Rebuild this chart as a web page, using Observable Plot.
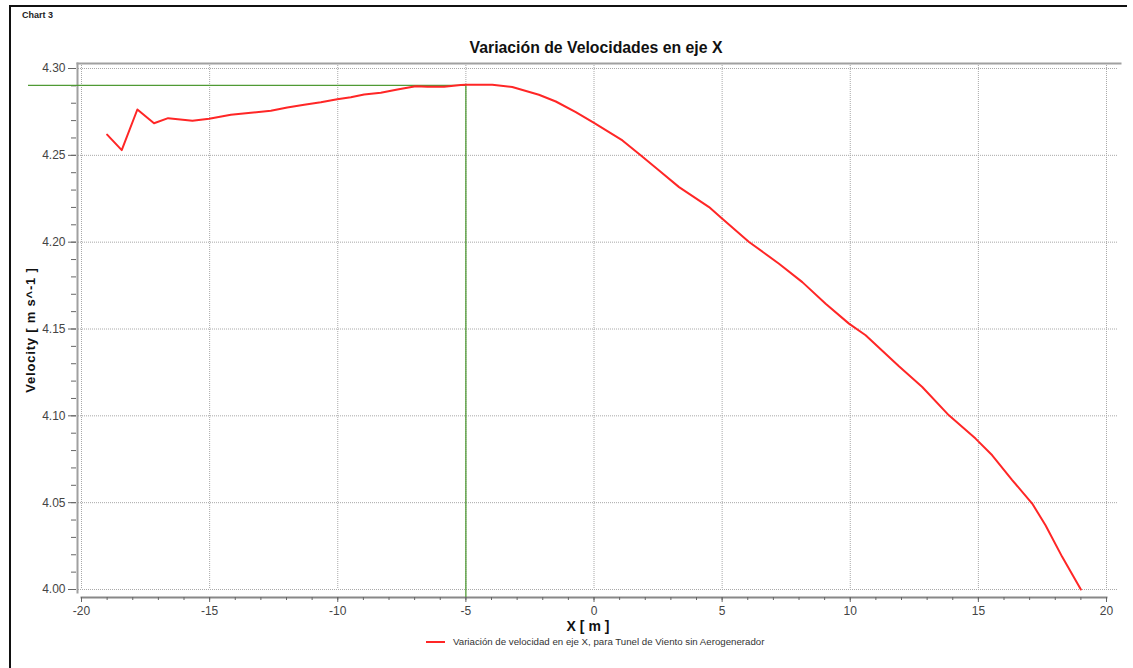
<!DOCTYPE html>
<html>
<head>
<meta charset="utf-8">
<script src="https://cdn.jsdelivr.net/npm/d3@7"></script>
<script src="https://cdn.jsdelivr.net/npm/@observablehq/plot@0.6"></script>
<style>
  html, body { margin: 0; padding: 0; background: #fff; }
  #wrap { position: relative; width: 1133px; height: 668px; overflow: hidden; font-family: "Liberation Sans", Arial, sans-serif; }
  #wrap svg { position: absolute; left: 0; top: 0; }
  .border { position: absolute; left: 9px; top: 5px; width: 1116px; height: 680px; border-left: 2px solid #111; border-top: 2px solid #111; }
  .abs { position: absolute; white-space: nowrap; }
</style>
</head>
<body>
<div id="wrap">
  <div class="border"></div>
</div>
<script>
const chartTag = "Chart 3";
const title = "Variación de Velocidades en eje X";
const xLabel = "X [ m ]";
const yLabel = "Velocity [ m s^-1 ]";
const seriesName = "Variación de velocidad en eje X, para Tunel de Viento sin Aerogenerador";

const posX = [-19.0,-18.43,-17.82,-17.17,-16.62,-15.67,-15.02,-14.17,-13.39,-12.61,-11.97,-11.31,-10.66,-10.02,-9.49,-8.97,-8.32,-7.67,-6.96,-6.50,-5.85,-5.20,-5.0,-3.97,-3.19,-2.15,-1.49,-0.71,0.0,1.11,1.82,2.54,3.32,4.49,4.94,6.05,7.22,8.13,9.04,9.95,10.60,11.90,12.81,13.85,14.89,15.54,16.32,17.10,17.62,18.27,19.0];
const velocity = [4.2619,4.2530,4.2764,4.2685,4.2714,4.2699,4.2711,4.2734,4.2745,4.2757,4.2776,4.2791,4.2806,4.2823,4.2835,4.2850,4.2860,4.2879,4.2898,4.2895,4.2895,4.2905,4.2906,4.2906,4.2893,4.2849,4.2810,4.2749,4.2687,4.2586,4.2500,4.2413,4.2317,4.2202,4.2144,4.2001,4.1876,4.1770,4.1646,4.1531,4.1464,4.1285,4.1166,4.1003,4.0869,4.0773,4.0630,4.0495,4.0370,4.0188,4.0000];

const xTicks = [-20,-15,-10,-5,0,5,10,15,20];
const xMinorTicks = d3.range(-20, 21, 1);
const yTicks = [4.00,4.05,4.10,4.15,4.20,4.25,4.30];
const yMinorTicks = d3.range(400, 431, 1).map(d => d / 100);

const markerX = [-5];
const markerY = [4.2903];

const data = posX.map((x, i) => ({x, v: velocity[i]}));

const gridStyle = {stroke: "#a8a8a8", strokeOpacity: 1, strokeDasharray: "1,1", strokeWidth: 1};
const frameStyle = {stroke: "#a0a0a0", strokeWidth: 2};

const plot = Plot.plot({
  width: 1133,
  height: 668,
  marginLeft: 81,
  marginRight: 27,
  marginTop: 68,
  marginBottom: 79,
  x: {domain: [-20, 20], axis: null},
  y: {domain: [4.0, 4.30], axis: null},
  style: {fontFamily: "'Liberation Sans', Arial, sans-serif", fontSize: "12px", color: "#444", background: "transparent"},
  marks: [
    Plot.gridY(yTicks, {...gridStyle, insetLeft: -3, insetRight: -11}),
    Plot.gridX(xTicks, {...gridStyle, insetTop: -5}),
    Plot.frame({anchor: "top", ...frameStyle, insetTop: -5, insetLeft: -4, insetRight: -14}),
    Plot.frame({anchor: "left", ...frameStyle, insetTop: -5, insetLeft: -4, insetBottom: -3}),
    Plot.frame({anchor: "bottom", stroke: "#888", strokeWidth: 2, insetBottom: -8}),
    Plot.axisY(yTicks, {tickSize: 8, tickPadding: 3, dx: -5, tickFormat: d => d.toFixed(2), label: null, stroke: "#666"}),
    Plot.axisY(yMinorTicks, {tickSize: 5, dx: -5, text: null, label: null, stroke: "#666"}),
    Plot.axisX(xTicks, {tickSize: 5, tickPadding: 4, dy: 8, tickFormat: d => String(d), label: null, stroke: "#666"}),
    Plot.axisX(xMinorTicks, {tickSize: 3, dy: 8, text: null, label: null, stroke: "#666"}),
    Plot.ruleY(markerY, {x1: -20, x2: markerX[0], insetLeft: -53, stroke: "#4f9a34", strokeWidth: 1.3}),
    Plot.ruleX(markerX, {y1: markerY[0], y2: 4.0, insetBottom: -8, stroke: "#4f9a34", strokeWidth: 1.3}),
    Plot.line(data, {x: "x", y: "v", stroke: "#ff2626", strokeWidth: 2})
  ]
});
const wrap = document.getElementById("wrap");
wrap.appendChild(plot);

function addText(txt, css) {
  const d = document.createElement("div");
  d.className = "abs";
  d.textContent = txt;
  Object.assign(d.style, css);
  wrap.appendChild(d);
  return d;
}
addText(chartTag, {left: "22px", top: "10px", fontSize: "9px", fontWeight: "bold", color: "#222"});
addText(title, {left: "0px", width: "1192px", textAlign: "center", top: "39px", fontSize: "15.8px", fontWeight: "bold", color: "#111"});
addText(xLabel, {left: "0px", width: "1176px", textAlign: "center", top: "618px", fontSize: "14px", fontWeight: "bold", color: "#111"});
addText(yLabel, {left: "30px", top: "330px", fontSize: "13px", letterSpacing: "0.8px", fontWeight: "bold", color: "#111", transform: "translate(-50%, -50%) rotate(-90deg)"});
const leg = document.createElement("div");
leg.className = "abs";
Object.assign(leg.style, {left: "426px", top: "636px", fontSize: "9.7px", color: "#333", display: "flex", alignItems: "center"});
leg.innerHTML = '<span style="display:inline-block;width:19px;height:2px;background:#ff2626;margin-right:8px"></span>';
const legText = document.createElement("span");
legText.textContent = seriesName;
leg.appendChild(legText);
wrap.appendChild(leg);
</script>
</body>
</html>
